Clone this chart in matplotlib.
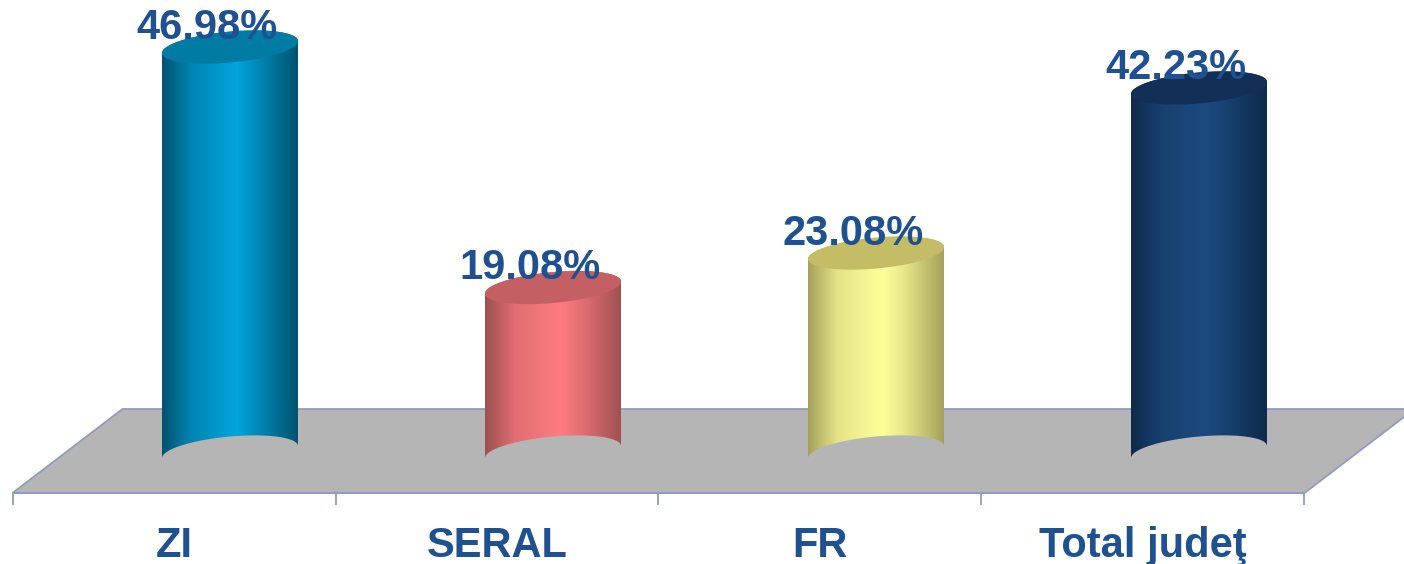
#!/usr/bin/env python3
"""Pseudo-3D cylinder column chart, drawn on a normal 2D axes."""

import matplotlib

matplotlib.use("Agg")
import matplotlib.pyplot as plt
import numpy as np
from matplotlib.colors import LinearSegmentedColormap
from matplotlib.patches import PathPatch, Polygon
from matplotlib.path import Path

categories = ["ZI", "SERAL", "FR", "Total judeţ"]
values = [46.98, 19.08, 23.08, 42.23]
value_labels = ["46.98%", "19.08%", "23.08%", "42.23%"]

# edge shade, mid shade, centre highlight, top cap
shades = [
    ("#00526F", "#0086B4", "#00A5DC", "#007BA4"),
    ("#9E5053", "#E06E72", "#FF7C80", "#C46064"),
    ("#A3A25A", "#E6E488", "#FFFF99", "#C4BD66"),
    ("#0F2A4C", "#17406F", "#1C4A80", "#112F57"),
]

INK = "#1F5190"
FLOOR = "#B5B5B5"
LINE = "#8F9CBE"

# scales of the fake perspective, everything below is in pixels of the output
W, H = 1404, 564
PX_X = 323.0  # one category
PX_Y = 8.62  # one percentage point
X0_PX = 174.0  # first category label
Y0_PX = 452.0  # zero line, cylinder base centre

DX = 56.0 / PX_X  # cylinders sit behind the labels
RX = 68.0 / PX_X
RY = 15.5 / PX_Y
TILT = 6.0 / PX_Y
FLOOR_LOW = -41.0 / PX_Y
FLOOR_HIGH = 43.0 / PX_Y
FLOOR_DEPTH = 110.0 / PX_X


def ring(cx, cy, t):
    return cx + RX * np.cos(t), cy + RY * np.sin(t) * -1 + TILT * np.cos(t)


def draw_cylinder(ax, i, value, shade):
    edge, mid, centre, cap = shade
    cx = i + DX
    cmap = LinearSegmentedColormap.from_list(
        "cyl",
        [(0, edge), (0.22, mid), (0.55, centre), (0.72, mid), (1, edge)],
    )

    # body: front half of the base ring, then back up along the top ring
    t_base = np.linspace(np.pi, 2 * np.pi, 60)
    bx, by = ring(cx, 0, t_base)
    t_top = np.linspace(0, -np.pi, 60)
    tx, ty = ring(cx, value, t_top)
    verts = np.column_stack([np.r_[bx, tx], np.r_[by, ty]])
    body = Polygon(verts, closed=True, facecolor="none", edgecolor="none", zorder=3)
    ax.add_patch(body)

    grad = np.linspace(0, 1, 256).reshape(1, -1)
    img = ax.imshow(
        grad,
        cmap=cmap,
        aspect="auto",
        extent=(cx - RX, cx + RX, -RY - TILT, value + RY + TILT),
        zorder=3,
    )
    img.set_clip_path(body)

    t = np.linspace(0, 2 * np.pi, 120)
    x, y = ring(cx, value, t)
    ax.add_patch(Polygon(np.column_stack([x, y]), closed=True, facecolor=cap, edgecolor="none", zorder=4))


def main():
    plt.rcParams["font.family"] = ["Liberation Sans", "DejaVu Sans"]

    fig = plt.figure(figsize=(W / 100, H / 100), dpi=100, facecolor="white")
    ax = fig.add_axes([0, 0, 1, 1])

    n = len(categories)
    left, right = -0.5, n - 0.5
    ax.add_patch(
        Polygon(
            [
                (left, FLOOR_LOW),
                (right, FLOOR_LOW),
                (right + FLOOR_DEPTH, FLOOR_HIGH),
                (left + FLOOR_DEPTH, FLOOR_HIGH),
            ],
            closed=True,
            facecolor=FLOOR,
            edgecolor=LINE,
            linewidth=1.3,
            zorder=1,
        )
    )

    for i, (value, shade) in enumerate(zip(values, shades)):
        draw_cylinder(ax, i, value, shade)
        ax.text(
            i + DX - 23 / PX_X,
            value + 19.5 / PX_Y,
            value_labels[i],
            ha="center",
            va="center",
            fontsize=30,
            fontweight="bold",
            color=INK,
            zorder=5,
        )

    ax.set_xlim(-X0_PX / PX_X, (W - X0_PX) / PX_X)
    ax.set_ylim((Y0_PX - H) / PX_Y, Y0_PX / PX_Y)

    for side in ("top", "left", "right"):
        ax.spines[side].set_visible(False)
    ax.spines["bottom"].set_position(("data", FLOOR_LOW))
    ax.spines["bottom"].set_bounds(left, right)
    ax.spines["bottom"].set_color(LINE)
    ax.spines["bottom"].set_linewidth(1.3)
    ax.spines["bottom"].set_zorder(2)

    ax.set_yticks([])
    ax.set_xticks(range(n), categories)
    ax.set_xticks(np.arange(n + 1) - 0.5, minor=True)
    ax.tick_params(axis="x", which="major", length=0, pad=24, labelsize=30, labelcolor=INK)
    ax.tick_params(axis="x", which="minor", length=8.6, width=1.3, color=LINE)
    for label in ax.get_xticklabels():
        label.set_fontweight("bold")

    fig.savefig("out.png", dpi=100, facecolor="white")
    plt.close(fig)


if __name__ == "__main__":
    main()
